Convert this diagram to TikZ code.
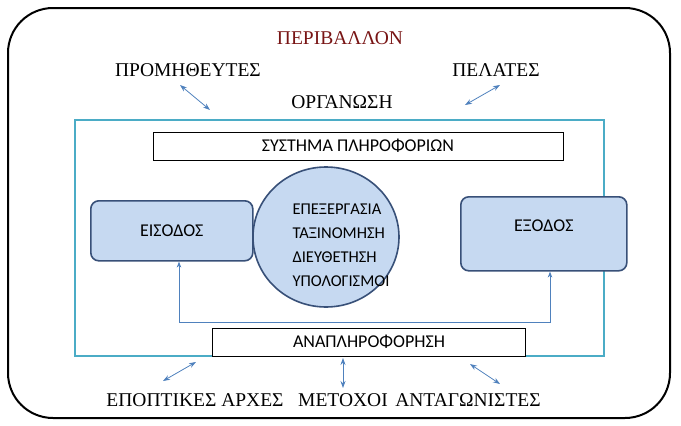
\documentclass[tikz,border=0pt]{standalone}
\usepackage{fontspec}
\setmainfont{Liberation Serif}
\newfontfamily\sansf{Carlito}
\usetikzlibrary{shapes.geometric,arrows.meta}
\definecolor{org}{RGB}{75,172,198}
\definecolor{lb}{RGB}{198,217,241}
\definecolor{db}{RGB}{56,80,120}
\definecolor{ab}{RGB}{79,129,189}
\definecolor{dred}{RGB}{120,20,20}
\tikzset{
 lbl/.style={font=\fontsize{19.5}{22}\selectfont},
 sl/.style={font=\sansf\fontsize{18}{20}\selectfont},
 dbl/.style={draw=ab,line width=0.8pt,{Stealth[length=7pt,width=5pt]}-{Stealth[length=7pt,width=5pt]}},
 fb/.style={draw=ab,line width=0.8pt},
 inbox/.style={draw=db,line width=1.6pt,fill=lb,rounded corners=8pt},
 plain/.style={draw=black,line width=0.8pt,fill=white}
}
\begin{document}
\begin{tikzpicture}[x=1pt,y=-1pt]
\useasboundingbox (0,0) rectangle (681,426);
\draw[line width=2pt,rounded corners=45pt] (8,8) rectangle (670,418);
\node[lbl,text=dred] (env) at (340,38) {ΠΕΡΙΒΑΛΛΟΝ};
\node[lbl] (sup) at (188,70) {ΠΡΟΜΗΘΕΥΤΕΣ};
\node[lbl] (cus) at (496,70) {ΠΕΛΑΤΕΣ};
\node[lbl] (orgl) at (342,102) {ΟΡΓΑΝΩΣΗ};
\draw[draw=org,line width=2.5pt] (75,120) rectangle (604,356);
\node[plain,sl,minimum width=410pt,minimum height=28pt] (is) at (358,146) {ΣΥΣΤΗΜΑ ΠΛΗΡΟΦΟΡΙΩΝ};
\node[inbox,sl,minimum width=162pt,minimum height=60pt,anchor=north west] (in) at (90,200) {ΕΙΣΟΔΟΣ};
\node[inbox,sl,minimum width=166pt,minimum height=74pt,anchor=north west,text depth=16pt] (out) at (460,196) {ΕΞΟΔΟΣ};
\node[ellipse,draw=db,line width=1.6pt,fill=lb,minimum width=146pt,minimum height=140pt] (proc) at (326,237) {};
\node[sl,align=left,anchor=west,font=\sansf\fontsize{16.5}{24}\selectfont] (pt) at (289,245) {ΕΠΕΞΕΡΓΑΣΙΑ\\ΤΑΞΙΝΟΜΗΣΗ\\ΔΙΕΥΘΕΤΗΣΗ\\ΥΠΟΛΟΓΙΣΜΟΙ};
\coordinate (fl) at (179,322);
\coordinate (fr) at (550,322);
\draw[fb,-{Stealth[length=6pt]}] (fl) -- (fr) -- (out.south -| fr);
\draw[fb,-{Stealth[length=6pt]}] (fl) -- (in.south -| fl);
\node[plain,sl,minimum width=313pt,minimum height=28pt] (fbk) at (369,342) {ΑΝΑΠΛΗΡΟΦΟΡΗΣΗ};
\node[lbl] (reg) at (195,400) {ΕΠΟΠΤΙΚΕΣ ΑΡΧΕΣ};
\node[lbl] (sh) at (343,400) {ΜΕΤΟΧΟΙ};
\node[lbl] (comp) at (468,400) {ΑΝΤΑΓΩΝΙΣΤΕΣ};
\coordinate (a1) at (180,85); \coordinate (a2) at (210,110);
\coordinate (b1) at (500,85); \coordinate (b2) at (465,105);
\coordinate (c1) at (163,381); \coordinate (c2) at (196,362);
\coordinate (d1) at (343,358); \coordinate (d2) at (343,388);
\coordinate (e1) at (470,364); \coordinate (e2) at (500,384);
\draw[dbl] (a1) -- (a2); \draw[dbl] (b1) -- (b2);
\draw[dbl] (c1) -- (c2); \draw[dbl] (d1) -- (d2); \draw[dbl] (e1) -- (e2);
\end{tikzpicture}
\end{document}
